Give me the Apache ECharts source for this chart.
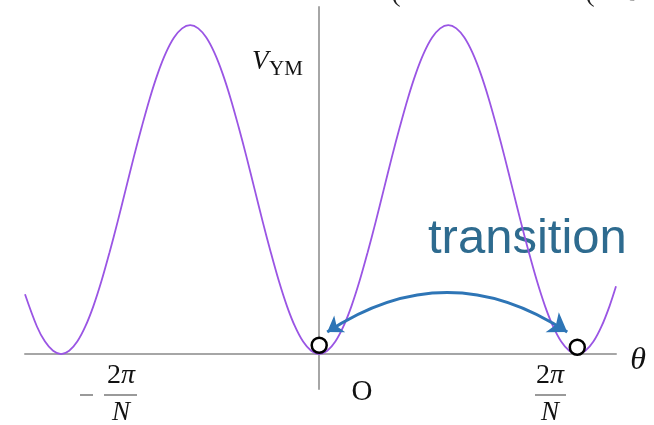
<!DOCTYPE html>
<html>
<head>
<meta charset="utf-8">
<script src="https://cdn.jsdelivr.net/npm/echarts@6/dist/echarts.min.js"></script>
<style>
  html, body { margin: 0; padding: 0; background: #ffffff; }
  #chart { width: 654px; height: 425px; }
</style>
</head>
<body>
<div id="chart"></div>
<script>
// Yang–Mills vacuum potential over theta (theta in units of 2π/N, V normalised to its maximum)
const curveTheta = [
  -1.14,
  -1.09375, -1.0625, -1.03125, -1,
  -0.96875, -0.9375, -0.90625, -0.875, -0.84375, -0.8125, -0.78125, -0.75,
  -0.71875, -0.6875, -0.65625, -0.625, -0.59375, -0.5625, -0.53125, -0.5,
  -0.46875, -0.4375, -0.40625, -0.375, -0.34375, -0.3125, -0.28125, -0.25,
  -0.21875, -0.1875, -0.15625, -0.125, -0.09375, -0.0625, -0.03125, 0,
  0.03125, 0.0625, 0.09375, 0.125, 0.15625, 0.1875, 0.21875, 0.25,
  0.28125, 0.3125, 0.34375, 0.375, 0.40625, 0.4375, 0.46875, 0.5,
  0.53125, 0.5625, 0.59375, 0.625, 0.65625, 0.6875, 0.71875, 0.75,
  0.78125, 0.8125, 0.84375, 0.875, 0.90625, 0.9375, 0.96875, 1,
  1.03125, 1.0625, 1.09375, 1.125, 1.15
];
const curveValue = [
  0.182,
  0.084, 0.038, 0.010, 0,
  0.010, 0.038, 0.084, 0.146, 0.222, 0.309, 0.402, 0.500,
  0.598, 0.691, 0.778, 0.854, 0.916, 0.962, 0.990, 1.000,
  0.990, 0.962, 0.916, 0.854, 0.778, 0.691, 0.598, 0.500,
  0.402, 0.309, 0.222, 0.146, 0.084, 0.038, 0.010, 0,
  0.010, 0.038, 0.084, 0.146, 0.222, 0.309, 0.402, 0.500,
  0.598, 0.691, 0.778, 0.854, 0.916, 0.962, 0.990, 1.000,
  0.990, 0.962, 0.916, 0.854, 0.778, 0.691, 0.598, 0.500,
  0.402, 0.309, 0.222, 0.146, 0.084, 0.038, 0.010, 0,
  0.010, 0.038, 0.084, 0.146, 0.206
];

// the two neighbouring vacua (hollow circles)
const vacuumTheta = [0, 1];
const vacuumLevel = [0.027, 0.021];

// tunnelling arrow end points
const transitionFrom = [0.031, 0.067];
const transitionTo = [0.961, 0.067];

// axis annotations
const tickNumerator = ['2', 'π'];
const tickDenominator = 'N';
const originLabel = 'O';
const thetaLabel = 'θ';
const potentialLabel = ['V', 'YM'];
const arrowLabel = 'transition';

const chart = echarts.init(document.getElementById('chart'), null, { renderer: 'canvas' });

const curveData = curveTheta.map((t, i) => [t, curveValue[i]]);
const vacuumData = vacuumTheta.map((t, i) => [t, vacuumLevel[i]]);

const axisGray = '#a6a6a6';
const serif = '"Liberation Serif", "DejaVu Serif", serif';

function txt(text, x, y, font, fill, align, vAlign, z) {
  return {
    type: 'text', x: x, y: y, z: z || 10,
    style: { text: text, font: font, fill: fill || '#111', align: align || 'center', verticalAlign: vAlign || 'middle' }
  };
}
function numerator(x, y) {
  return {
    type: 'text', x: x, y: y, z: 10,
    style: {
      text: '{u|' + tickNumerator[0] + '}{i|' + tickNumerator[1] + '}',
      align: 'center', verticalAlign: 'middle',
      rich: {
        u: { fontFamily: serif, fontSize: 28, fill: '#111' },
        i: { fontFamily: serif, fontSize: 28, fontStyle: 'italic', fill: '#111' }
      }
    }
  };
}
function bar(x1, x2, y) {
  return {
    type: 'line', z: 10,
    shape: { x1: x1, y1: y, x2: x2, y2: y },
    style: { stroke: '#9a9a9a', lineWidth: 2 }
  };
}

const option = {
  backgroundColor: '#ffffff',
  animation: false,
  grid: { left: 25, width: 591, top: 7, height: 382, containLabel: false },
  xAxis: {
    type: 'value', min: -1.14, max: 1.15,
    axisLine: { show: true, onZero: true, lineStyle: { color: axisGray, width: 2 } },
    axisTick: { show: false }, axisLabel: { show: false }, splitLine: { show: false }
  },
  yAxis: {
    type: 'value', min: -0.106, max: 1.055,
    axisLine: { show: true, onZero: true, lineStyle: { color: axisGray, width: 2 } },
    axisTick: { show: false }, axisLabel: { show: false }, splitLine: { show: false }
  },
  series: [
    {
      type: 'line', data: curveData, smooth: 0.35, showSymbol: false, z: 3,
      lineStyle: { color: '#9a55e4', width: 1.8 }
    },
    {
      type: 'lines', coordinateSystem: 'cartesian2d', z: 4,
      symbol: ['arrow', 'arrow'], symbolSize: [15, 18],
      lineStyle: { color: '#2e75b6', width: 3, curveness: 0.33, opacity: 1 },
      data: [{ coords: [transitionFrom, transitionTo] }]
    },
    {
      type: 'scatter', data: vacuumData, symbol: 'circle', symbolSize: 15, z: 5,
      itemStyle: { color: '#ffffff', borderColor: '#000000', borderWidth: 2.5, opacity: 1 }
    }
  ],
  graphic: [
    // fragments of the heading above the plot
    txt('(', 396, 8, '28px ' + serif, '#222', 'center', 'bottom'),
    txt('(', 590, 8, '28px ' + serif, '#222', 'center', 'bottom'),
    txt('o', 632, 5, '18px ' + serif, '#888', 'center', 'bottom'),
    // potential label
    txt(potentialLabel[0], 252, 62, 'italic 27px ' + serif, '#111', 'left', 'middle'),
    txt(potentialLabel[1], 269, 69, '21px ' + serif, '#111', 'left', 'middle'),
    // theta axis name and origin
    txt(thetaLabel, 638, 361, 'italic 32px ' + serif, '#111'),
    txt(originLabel, 362, 392, '29px ' + serif, '#111'),
    // -2π/N
    bar(80, 93, 395),
    numerator(121, 376),
    bar(104, 137, 395),
    txt(tickDenominator, 121, 413, 'italic 27px ' + serif, '#111'),
    // 2π/N
    numerator(550, 376),
    bar(535, 566, 395),
    txt(tickDenominator, 550, 413, 'italic 27px ' + serif, '#111'),
    // arrow caption
    txt(arrowLabel, 428, 239, '49px "Liberation Sans", Arial, sans-serif', '#2e6b8f', 'left', 'middle', 2)
  ]
};

chart.setOption(option);
</script>
</body>
</html>
